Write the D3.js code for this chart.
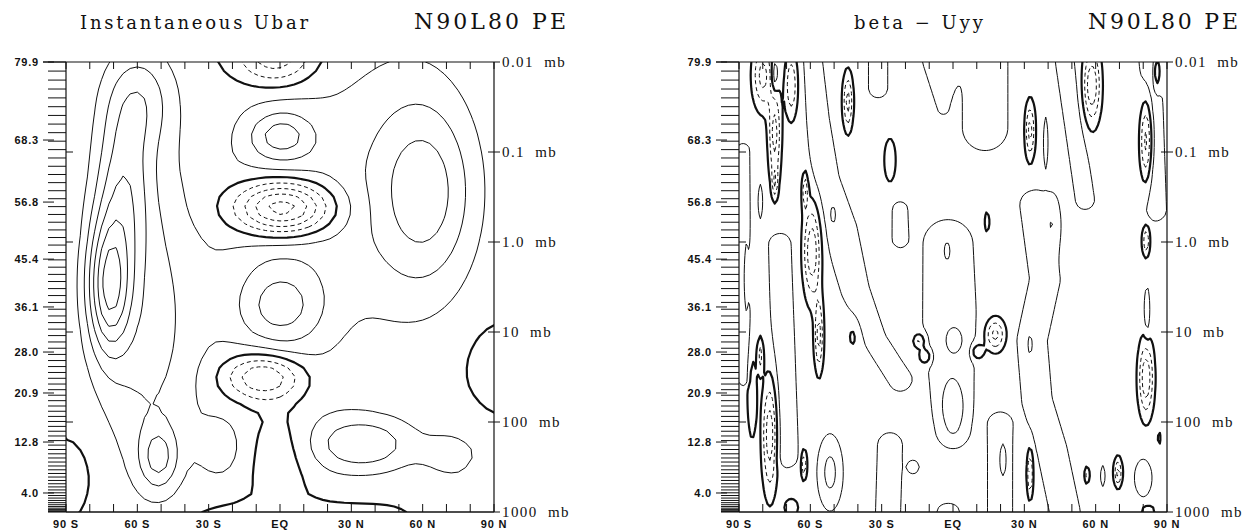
<!DOCTYPE html>
<html>
<head>
<meta charset="utf-8">
<script src="https://cdn.jsdelivr.net/npm/d3@7"></script>
<style>
body { margin: 0; background: #fff; }
text { fill: #111; }
</style>
</head>
<body>
<svg id="chart" width="1256" height="531"></svg>
<script>
// ---- axis data ----
var latTicks = [-90, -60, -30, 0, 30, 60, 90];
var latLabels = ['90 S', '60 S', '30 S', 'EQ', '30 N', '60 N', '90 N'];
var presTicks = [0.01, 0.1, 1, 10, 100, 1000];
var presLabels = ['0.01 mb', '0.1 mb', '1.0 mb', '10 mb', '100 mb', '1000 mb'];
var heightLabels = ['79.9', '68.3', '56.8', '45.4', '36.1', '28.0', '20.9', '12.8', '4.0'];
var heightPres = [0.01, 0.0736, 0.36, 1.55, 5.27, 16.7, 47.6, 167, 615]; // mb where each height label sits

// ---- Ubar blobs: [lat, log10(p mb), amplitude m/s, lat width, log10p width] ----
var ubarFeatures = [
    // southern hemisphere westerlies
    [-72, 0.5, 50, 9, 0.75],
    [-66, -0.6, 28, 12, 0.9],
    [-59, -1.6, 22, 15, 0.6],
    [-51, 2.4, 25, 8, 0.35],
    [-55, 0.9, 24, 22, 1.8],
    [-25, 2.3, 12, 10, 0.35],
    [-88, 2.6, -8, 7, 0.3],
    // tropics
    [0, 0, 17, 28, 2.2],
    [-2, -2.05, -34, 16, 0.3],
    [0.5, -1.18, 23, 13, 0.25],
    [1, -0.38, -62, 20, 0.3],
    [0, 0.72, 20, 18, 0.42],
    [-7, 1.5, -39, 16, 0.25],
    [0, 2.3, -12, 14, 0.6],
    [0, 3.05, -8, 35, 0.15],
    // northern hemisphere
    [35, 2.25, 28, 22, 0.32],
    [70, 2.35, 10, 10, 0.15],
    [75, 2.5, 8, 15, 0.6],
    [63, -0.55, 22, 20, 1.0],
    [50, -0.6, 18, 30, 1.6],
    [90, 1.4, -10, 9, 0.35]
];
var ubarBase = 0;
var ubarLevels = [-60, -50, -40, -30, -20, -10, 0, 10, 20, 30, 40, 50, 60, 70, 80];

// ---- beta - Uyy ----
// ridges: points [lat, log10(p), lat half-width], amplitude
var uyyRidges = [
    {amp: 1, pts: [[-88.3, -1.02, 2.9], [-87.5, 1.53, 2.9]]},
    {amp: 1, pts: [[-72.8, 0.03, 5.0], [-70.2, 2.37, 5.5]]},
    {amp: 1, pts: [[-58.9, -2.0, 4.2], [-56.8, -1.36, 5.0], [-53.8, -0.69, 6.3], [-47.5, -0.13, 7.6],
                   [-41.2, 0.53, 6.3], [-32.8, 1.09, 5.0], [-22.3, 1.53, 5.0]]},
    {amp: 1, pts: [[-31.5, -2.0, 4.2], [-31.5, -1.71, 4.2]]},
    {amp: 1, pts: [[-5.5, -2.0, 7.6], [-4.2, -1.49, 2.5]]},
    {amp: 1, pts: [[13.5, -2.0, 10], [13.5, -1.27, 10]]},
    {amp: 1, pts: [[-2.1, 0.03, 11], [-1.3, 0.98, 12], [0.0, 2.09, 7]]},
    {amp: 1, pts: [[34.5, -0.41, 6.7], [38.7, 0.42, 6.7], [33.2, 1.09, 6.7], [35.3, 1.76, 6.7],
                   [41.6, 2.31, 6.7], [47.1, 3.0, 6.7]]},
    {amp: 1, pts: [[47.1, -2.0, 4.2], [51.3, -1.24, 4.2], [55.5, -0.47, 4.2]]},
    {amp: 1, pts: [[-27.3, 3.0, 5.5], [-26.5, 2.26, 5.5]]},
    {amp: 1, pts: [[19.8, 3.0, 5.5], [19.8, 2.03, 5.5]]},
    {amp: 1, pts: [[82.9, -2.0, 5.0], [85.0, -0.36, 5.0]]},
    {amp: 1, pts: [[-22.3, -0.36, 3.4], [-22.3, -0.03, 3.4]]}
];
// small cells: [lat, log10(p), amplitude, lat width, log10p width]
var uyyFeatures = [
    // positive cells
    [-75, -1.84, 2.0, 1.5, 0.2],
    [32.4, 1.14, 1.0, 0.8, 0.12],
    [21.2, 2.42, 1.0, 1.5, 0.2],
    [63, 2.6, 1.0, 1.0, 0.12],
    [80, 2.62, 1.2, 3.5, 0.2],
    [81.6, 0.81, 1.2, 1.2, 0.3],
    [-51.7, 2.56, 1.8, 4.5, 0.35],
    [0, 1.83, 1.2, 5.5, 0.3],
    [0.8, 1.09, 1.0, 4, 0.15],
    [-2.5, 0.1, 1.0, 1.2, 0.1],
    [39, -1.1, 1.0, 1, 0.3],
    [42, -0.22, 1.0, 3, 0.28],
    [-81, -0.45, 1.0, 1, 0.2],
    [-50.5, -0.3, 1.0, 1, 0.1],
    [-2, 3.0, 1.0, 5, 0.1],
    [-16.6, 2.5, 1.0, 2.5, 0.07],
    // negative slivers
    [-80, -1.85, -3.0, 4, 0.35],
    [-75, -1.2, -3.0, 2.5, 0.5],
    [-68, -1.74, -2.5, 2.5, 0.35],
    [-74.9, -0.66, -2.0, 1.2, 0.17],
    [-62.2, -0.57, -2.5, 1.2, 0.2],
    [-59.3, 0.1, -3.5, 3.5, 0.5],
    [-56.4, 1.04, -3.0, 1.8, 0.38],
    [-77, 2.14, -3.5, 3, 0.6],
    [-84.5, 1.7, -1.5, 2, 0.5],
    [-62.7, 2.47, -2.5, 1.2, 0.16],
    [-44.2, -1.56, -3.0, 2, 0.3],
    [-26.5, -0.91, -1.5, 2.5, 0.25],
    [-42, 1.04, -0.8, 3, 0.2],
    [-14.3, 1.1, -2.0, 2.5, 0.08],
    [-11.8, 1.27, -2.0, 2.5, 0.08],
    [58.4, -1.74, -3.5, 3.5, 0.4],
    [32.4, -1.24, -3.0, 2, 0.3],
    [81.2, -1.13, -3.5, 2.5, 0.45],
    [85.8, -1.89, -2.0, 1.5, 0.2],
    [14.3, -0.22, -1.5, 1, 0.12],
    [81.2, -0.01, -2.5, 1.5, 0.16],
    [81.2, 1.51, -3.5, 3, 0.4],
    [17.7, 1.03, -3.0, 4, 0.17],
    [10.5, 1.22, -2.0, 2.5, 0.08],
    [32.4, 2.57, -3.0, 1.2, 0.25],
    [56.3, 2.59, -2.0, 1, 0.09],
    [69.4, 2.56, -3.0, 1.6, 0.15],
    [86.6, 2.18, -1.0, 0.8, 0.12],
    [-81, 1.26, -2.0, 1.2, 0.2],
    [-87, 0.4, -1.2, 1, 0.4],
    [-68, 2.95, -1.5, 3, 0.1],
    [82, 2.98, -1.5, 3, 0.05]
];
var uyyBase = 0.6;
var uyyLevels = [-4, -3, -2, -1, 0, 1, 2, 3];

// ---- layout ----
var W = 428, plotTop = 62, plotBottom = 512;
var decadeAsLat = 37.85; // one decade of pressure is as tall as this many degrees are wide
var panels = [
    {x0: 66, title: 'Instantaneous Ubar', titleX: 80, titleLen: 228, tagX: 414, tagLen: 152,
     features: ubarFeatures, ridges: [], base: ubarBase, levels: ubarLevels, nx: 61, ny: 51},
    {x0: 739, title: 'beta \u2212 Uyy', titleX: 854, titleLen: 129, tagX: 1088, tagLen: 150,
     features: uyyFeatures, ridges: uyyRidges, base: uyyBase, levels: uyyLevels, nx: 181, ny: 101}
];

var svg = d3.select('#chart');
var y = d3.scaleLog().domain([0.01, 1000]).range([plotTop, plotBottom]);

function ridgeValue(r, lat, z) {
    var best = 0;
    for (var k = 0; k < r.pts.length - 1; k++) {
        var a = r.pts[k], b = r.pts[k + 1];
        var ax = a[0], ay = a[1] * decadeAsLat, bx = b[0], by = b[1] * decadeAsLat;
        var px = lat, py = z * decadeAsLat;
        var dx = bx - ax, dy = by - ay;
        var t = ((px - ax) * dx + (py - ay) * dy) / (dx * dx + dy * dy);
        t = Math.max(0, Math.min(1, t));
        var qx = ax + t * dx - px, qy = ay + t * dy - py;
        var w = a[2] + t * (b[2] - a[2]);
        var v = Math.exp(-(qx * qx + qy * qy) / (w * w));
        if (v > best) best = v;
    }
    return r.amp * best;
}

function buildField(pn) {
    var values = new Array(pn.nx * pn.ny);
    for (var j = 0; j < pn.ny; j++) {
        var z = -2 + j * 5 / (pn.ny - 1);
        for (var i = 0; i < pn.nx; i++) {
            var lat = -90 + i * 180 / (pn.nx - 1);
            var v = pn.base;
            pn.features.forEach(function(f) {
                var a = (lat - f[0]) / f[3], b = (z - f[1]) / f[4];
                v += f[2] * Math.exp(-a * a - b * b);
            });
            pn.ridges.forEach(function(r) { v += ridgeValue(r, lat, z); });
            values[j * pn.nx + i] = v;
        }
    }
    return values;
}

panels.forEach(function(pn, idx) {
    var x = d3.scaleLinear().domain([-90, 90]).range([pn.x0, pn.x0 + W]);
    var g = svg.append('g');

    svg.append('clipPath').attr('id', 'clip' + idx)
        .append('rect').attr('x', pn.x0).attr('y', plotTop)
        .attr('width', W).attr('height', plotBottom - plotTop);

    var values = buildField(pn);
    var contours = d3.contours().size([pn.nx, pn.ny]).thresholds(pn.levels)(values);
    var dLat = 180 / (pn.nx - 1), dZ = 5 / (pn.ny - 1);
    var proj = d3.geoTransform({point: function(c, r) {
        this.stream.point(x(-90 + (c - 0.5) * dLat), y(Math.pow(10, -2 + (r - 0.5) * dZ)));
    }});
    var path = d3.geoPath(proj);

    g.append('g').attr('clip-path', 'url(#clip' + idx + ')')
        .selectAll('path').data(contours).enter().append('path')
        .attr('d', path)
        .attr('fill', 'none')
        .attr('stroke', '#111')
        .attr('stroke-linejoin', 'round')
        .attr('stroke-width', function(d) { return d.value === 0 ? 2.2 : 1; })
        .attr('stroke-dasharray', function(d) { return d.value < 0 ? '4,3' : null; });

    // frame
    var ax = g.append('g').attr('stroke', '#111').attr('fill', 'none');
    ax.append('line').attr('x1', pn.x0 - 23).attr('x2', pn.x0 + W).attr('y1', plotTop).attr('y2', plotTop).attr('stroke-width', 1.2);
    ax.append('line').attr('x1', pn.x0).attr('x2', pn.x0 + W).attr('y1', plotBottom).attr('y2', plotBottom).attr('stroke-width', 1.5);
    ax.append('line').attr('x1', pn.x0).attr('x2', pn.x0).attr('y1', plotTop).attr('y2', plotBottom).attr('stroke-width', 1.2);
    ax.append('line').attr('x1', pn.x0 + W).attr('x2', pn.x0 + W).attr('y1', plotTop).attr('y2', plotBottom).attr('stroke-width', 1.2);

    // latitude ticks every 10 degrees, top and bottom
    var minor = d3.range(-90, 91, 10);
    ax.selectAll('.tt').data(minor).enter().append('line')
        .attr('x1', function(d) { return x(d); }).attr('x2', function(d) { return x(d); })
        .attr('y1', plotTop).attr('y2', plotTop + 7);
    ax.selectAll('.bt').data(minor).enter().append('line')
        .attr('x1', function(d) { return x(d); }).attr('x2', function(d) { return x(d); })
        .attr('y1', plotBottom).attr('y2', plotBottom - 8);

    // model level ticks on the left (denser towards the ground)
    var levelY = d3.range(80).map(function(k) { return plotBottom - (plotBottom - plotTop) * Math.pow(k / 79, 1.6); });
    ax.selectAll('.lv').data(levelY).enter().append('line')
        .attr('x1', pn.x0 - 18).attr('x2', pn.x0)
        .attr('y1', function(d) { return d; }).attr('y2', function(d) { return d; })
        .attr('stroke-width', 1);

    // height labels on the left
    ax.selectAll('.hl').data(heightPres).enter().append('line')
        .attr('x1', pn.x0 - 23).attr('x2', pn.x0 - 12)
        .attr('y1', function(d) { return y(d); }).attr('y2', function(d) { return y(d); });
    g.selectAll('.hlt').data(heightLabels).enter().append('text')
        .attr('x', pn.x0 - 27).attr('y', function(d, i) { return y(heightPres[i]) + 4; })
        .attr('text-anchor', 'end')
        .style('font', 'bold 11px "Liberation Sans", Arial, sans-serif')
        .style('letter-spacing', '0.8px')
        .text(function(d) { return d; });

    // pressure ticks: inside on the left, across on the right
    ax.selectAll('.pl').data(presTicks.slice(1, 5)).enter().append('line')
        .attr('x1', pn.x0).attr('x2', pn.x0 + 7)
        .attr('y1', function(d) { return y(d); }).attr('y2', function(d) { return y(d); });
    ax.selectAll('.pr').data(presTicks).enter().append('line')
        .attr('x1', function(d, i) { return (i === 0 || i === 5) ? pn.x0 + W : pn.x0 + W - 6; })
        .attr('x2', pn.x0 + W + 6)
        .attr('y1', function(d) { return y(d); }).attr('y2', function(d) { return y(d); });
    g.selectAll('.prt').data(presLabels).enter().append('text')
        .attr('x', pn.x0 + W + 8).attr('y', function(d, i) { return y(presTicks[i]) + 5; })
        .style('font', '15px "Liberation Serif", "DejaVu Serif", serif')
        .style('letter-spacing', '1.4px')
        .style('white-space', 'pre')
        .text(function(d) { return d.replace(' ', '  '); });

    // latitude labels
    g.selectAll('.ll').data(latLabels).enter().append('text')
        .attr('x', function(d, i) { return x(latTicks[i]); }).attr('y', 528)
        .attr('text-anchor', 'middle')
        .style('font', 'bold 11px "Liberation Sans", Arial, sans-serif')
        .style('letter-spacing', '0.8px')
        .text(function(d) { return d; });

    // titles
    g.append('text').attr('x', pn.titleX).attr('y', 29)
        .attr('textLength', pn.titleLen).attr('lengthAdjust', 'spacing')
        .style('font', '18px "DejaVu Serif", "Liberation Serif", serif')
        .text(pn.title);
    g.append('text').attr('x', pn.tagX).attr('y', 29)
        .attr('textLength', pn.tagLen).attr('lengthAdjust', 'spacing')
        .style('font', '22px "DejaVu Serif", "Liberation Serif", serif')
        .text('N90L80 PE');
});
</script>
</body>
</html>
